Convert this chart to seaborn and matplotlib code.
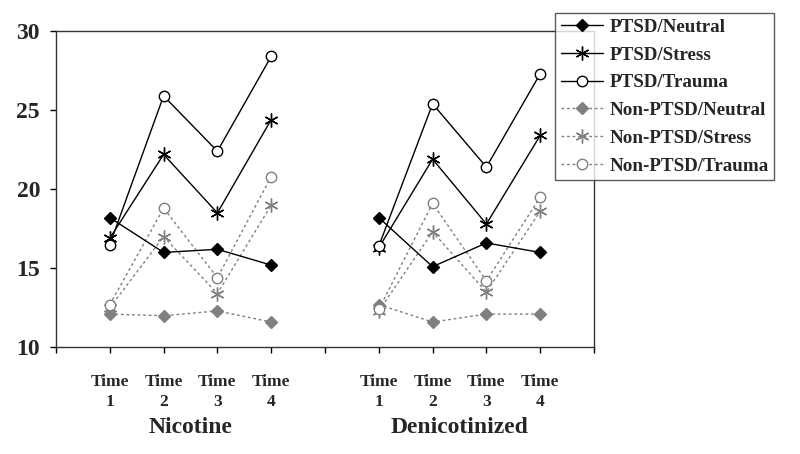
import pandas as pd
import seaborn as sns
import matplotlib.pyplot as plt
from matplotlib.lines import Line2D

# Values (y = mean score)
time_labels = ["Time\n1", "Time\n2", "Time\n3", "Time\n4"]
conditions = ["Nicotine", "Denicotinized"]

nic_ptsd_neutral = [18.2, 16.0, 16.2, 15.2]
nic_ptsd_stress = [16.9, 22.2, 18.5, 24.4]
nic_ptsd_trauma = [16.5, 25.9, 22.4, 28.4]
nic_non_neutral = [12.1, 12.0, 12.3, 11.6]
nic_non_stress = [12.5, 17.0, 13.4, 19.0]
nic_non_trauma = [12.7, 18.8, 14.4, 20.8]

den_ptsd_neutral = [18.2, 15.1, 16.6, 16.0]
den_ptsd_stress = [16.3, 21.9, 17.8, 23.4]
den_ptsd_trauma = [16.4, 25.4, 21.4, 27.3]
den_non_neutral = [12.7, 11.6, 12.1, 12.1]
den_non_stress = [12.3, 17.3, 13.5, 18.6]
den_non_trauma = [12.4, 19.1, 14.2, 19.5]

series = {
    "PTSD/Neutral": (nic_ptsd_neutral, den_ptsd_neutral),
    "PTSD/Stress": (nic_ptsd_stress, den_ptsd_stress),
    "PTSD/Trauma": (nic_ptsd_trauma, den_ptsd_trauma),
    "Non-PTSD/Neutral": (nic_non_neutral, den_non_neutral),
    "Non-PTSD/Stress": (nic_non_stress, den_non_stress),
    "Non-PTSD/Trauma": (nic_non_trauma, den_non_trauma),
}

# long table: x position 1-4 for nicotine, 6-9 for denicotinized
rows = []
for name, (nic, den) in series.items():
    for cond, vals, offset in [("Nicotine", nic, 1), ("Denicotinized", den, 6)]:
        for i, v in enumerate(vals):
            rows.append({"series": name, "cond": cond, "pos": i + offset, "value": v})
df = pd.DataFrame(rows)

# line / marker look for every series
ast = (6, 2, 0)
styles = {
    "PTSD/Neutral": dict(color="black", marker="D", markersize=6, mfc="black", linestyle="-"),
    "PTSD/Stress": dict(color="black", marker=ast, markersize=10, mfc="black", linestyle="-"),
    "PTSD/Trauma": dict(color="black", marker="o", markersize=7.5, mfc="white", linestyle="-"),
    "Non-PTSD/Neutral": dict(color="#808080", marker="D", markersize=6, mfc="#808080", linestyle=(0, (2, 2))),
    "Non-PTSD/Stress": dict(color="#808080", marker=ast, markersize=10, mfc="#808080", linestyle=(0, (2, 2))),
    "Non-PTSD/Trauma": dict(color="#808080", marker="o", markersize=7.5, mfc="white", linestyle=(0, (2, 2))),
}

sns.set_style("ticks")
plt.rcParams["font.family"] = ["Liberation Serif", "DejaVu Serif"]
plt.rcParams["font.weight"] = "bold"

fig = plt.figure(figsize=(8, 4.54), dpi=100)
ax = fig.add_axes([0.07, 0.235, 0.6725, 0.6965])

draw_order = ["Non-PTSD/Neutral", "Non-PTSD/Stress", "Non-PTSD/Trauma",
              "PTSD/Neutral", "PTSD/Stress", "PTSD/Trauma"]
handles = {}
for z, name in enumerate(draw_order):
    st = styles[name]
    for cond in conditions:
        sub = df[(df["series"] == name) & (df["cond"] == cond)]
        sns.lineplot(data=sub, x="pos", y="value", ax=ax, legend=False,
                     color=st["color"], linestyle=st["linestyle"], linewidth=1,
                     marker=st["marker"], markersize=st["markersize"],
                     markerfacecolor=st["mfc"], markeredgecolor=st["color"],
                     markeredgewidth=1, zorder=3 + z)
    handles[name] = Line2D([], [], color=st["color"], linestyle=st["linestyle"], linewidth=1,
                           marker=st["marker"], markersize=st["markersize"],
                           markerfacecolor=st["mfc"], markeredgecolor=st["color"],
                           markeredgewidth=1)

ax.set_xlim(0, 10)
ax.set_ylim(10, 30)
ax.set_yticks([10, 15, 20, 25, 30])
ax.set_xticks(range(11))
ax.set_xticklabels([""] + time_labels + [""] + time_labels + [""],
                   fontsize=12.5, fontweight="bold", linespacing=1.3)
ax.tick_params(axis="x", direction="out", length=4.5, width=1, pad=15, color="black")
ax.tick_params(axis="y", direction="out", length=4.5, width=1, pad=7, color="black",
               labelsize=17)
for lab in ax.get_yticklabels():
    lab.set_fontweight("bold")
ax.set_xlabel("")
ax.set_ylabel("")
for sp in ax.spines.values():
    sp.set_color("#333333")
    sp.set_linewidth(1)

# group names under the time labels
ax.text(2.5, -0.255, "Nicotine", transform=ax.get_xaxis_transform(),
        ha="center", va="center", fontsize=17, fontweight="bold")
ax.text(7.5, -0.255, "Denicotinized", transform=ax.get_xaxis_transform(),
        ha="center", va="center", fontsize=17, fontweight="bold")

leg = fig.legend([handles[n] for n in series], list(series.keys()),
                 loc="upper left", bbox_to_anchor=(0.694, 0.972),
                 frameon=True, fancybox=False, edgecolor="#333333",
                 prop={"family": "Liberation Serif", "weight": "bold", "size": 13.7},
                 handlelength=2.2, handletextpad=0.35, labelspacing=0.55,
                 borderpad=0.3, borderaxespad=0)
leg.get_frame().set_linewidth(1)
leg.set_zorder(10)

fig.savefig("out.png", dpi=100, facecolor="white")
